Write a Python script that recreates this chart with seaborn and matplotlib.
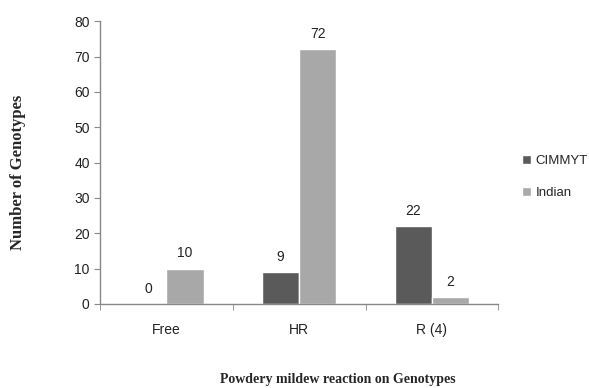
import pandas as pd
import matplotlib.pyplot as plt
import seaborn as sns

# data
categories = ["Free", "HR", "R (4)"]
cimmyt = [0, 9, 22]
indian = [10, 72, 2]

df = pd.DataFrame({
    "reaction": categories * 2,
    "count": cimmyt + indian,
    "group": ["CIMMYT"] * 3 + ["Indian"] * 3,
})

sns.set_style("white")
plt.rcParams["font.family"] = ["Liberation Sans", "DejaVu Sans"]

fig = plt.figure(figsize=(5.89, 3.88), dpi=100)
ax = fig.add_axes([0.170, 0.2165, 0.676, 0.729])

sns.barplot(data=df, x="reaction", y="count", hue="group",
            palette={"CIMMYT": "#5a5a5a", "Indian": "#a8a8a8"},
            width=0.56, gap=0, saturation=1, ax=ax)

for c in ax.containers:
    ax.bar_label(c, padding=6, fontsize=10, color="#222222")

ax.set_ylim(0, 80)
ax.set_xlim(-0.5, 2.5)
ax.set_yticks(range(0, 81, 10))
ax.tick_params(axis="y", length=4, color="#888888", labelsize=10, labelcolor="#222222", direction="out", left=True)
ax.tick_params(axis="x", which="major", length=0, labelsize=10, labelcolor="#222222", pad=14)
ax.set_xticks([-0.5, 0.5, 1.5, 2.5], minor=True)
ax.tick_params(axis="x", which="minor", length=4, color="#888888", direction="out", bottom=True)

for s in ["top", "right"]:
    ax.spines[s].set_visible(False)
for s in ["left", "bottom"]:
    ax.spines[s].set_color("#888888")
    ax.spines[s].set_linewidth(1.0)

ax.set_xlabel("")
ax.set_ylabel("")
fig.text(0.574, 0.021, "Powdery mildew reaction on Genotypes", family="Liberation Serif",
         fontweight="bold", fontsize=10, ha="center", va="center")
fig.text(0.031, 0.557, "Number of Genotypes", family="Liberation Serif",
         fontweight="bold", fontsize=12, ha="center", va="center", rotation=90)

ax.legend(loc="center left", bbox_to_anchor=(1.03, 0.45), frameon=False,
          fontsize=9.5, handlelength=0.7, handleheight=0.7, handletextpad=0.3,
          labelspacing=1.5)

fig.savefig("out.png", dpi=100)
